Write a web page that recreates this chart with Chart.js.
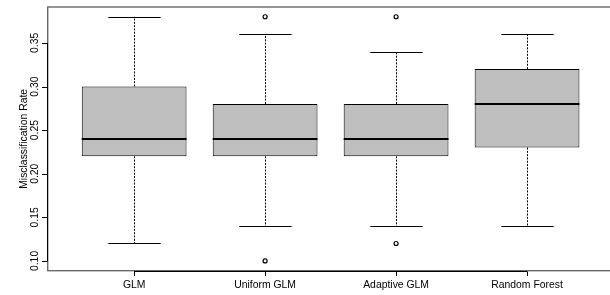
<!DOCTYPE html>
<html>
<head>
<meta charset="utf-8">
<script src="https://cdn.jsdelivr.net/npm/chart.js@4"></script>
<style>
  html, body { margin: 0; padding: 0; background: #fff; overflow: hidden; }
  #wrap { position: relative; width: 620px; height: 295px; }
</style>
</head>
<body>
<div id="wrap"><canvas id="boxChart"></canvas></div>
<script>
// --- Data ---
const categories = ['GLM', 'Uniform GLM', 'Adaptive GLM', 'Random Forest'];
const lowerWhisker = [0.12, 0.14, 0.14, 0.14];
const q1 = [0.22, 0.22, 0.22, 0.23];
const medians = [0.24, 0.24, 0.24, 0.28];
const q3 = [0.30, 0.28, 0.28, 0.32];
const upperWhisker = [0.38, 0.36, 0.34, 0.36];
const outliers = [[], [0.38, 0.10], [0.38, 0.12], []];
const yTicks = [0.10, 0.15, 0.20, 0.25, 0.30, 0.35];
const yTitle = 'Misclassification Rate';

const FONT = '10.4px "Liberation Sans", Arial, sans-serif';

// --- Datasets built from arrays ---
const boxData = categories.map((c, i) => ({ x: i + 1, y: [q1[i], q3[i]] }));
const outlierData = [];
outliers.forEach((list, i) => list.forEach(v => outlierData.push({ x: i + 1, y: v })));

// --- Plugin: whiskers, medians, frame, axes (R boxplot look) ---
const rBoxplot = {
    id: 'rBoxplot',
    beforeDatasetsDraw(chart) {
        const ctx = chart.ctx;
        const xs = chart.scales.x, ys = chart.scales.y;
        ctx.save();
        categories.forEach((c, i) => {
            const cx = Math.round(xs.getPixelForValue(i + 1)) + 0.5;
            const halfCap = xs.getPixelForValue(i + 1.2) - xs.getPixelForValue(i + 1);
            // dashed whiskers
            ctx.strokeStyle = '#000';
            ctx.lineWidth = 1;
            ctx.setLineDash([2, 1.3]);
            ctx.beginPath();
            ctx.moveTo(cx, ys.getPixelForValue(q3[i]));
            ctx.lineTo(cx, ys.getPixelForValue(upperWhisker[i]));
            ctx.moveTo(cx, ys.getPixelForValue(q1[i]));
            ctx.lineTo(cx, ys.getPixelForValue(lowerWhisker[i]));
            ctx.stroke();
            // caps
            ctx.setLineDash([]);
            ctx.beginPath();
            [upperWhisker[i], lowerWhisker[i]].forEach(v => {
                const py = Math.round(ys.getPixelForValue(v)) + 0.5;
                ctx.moveTo(cx - halfCap, py);
                ctx.lineTo(cx + halfCap, py);
            });
            ctx.stroke();
        });
        ctx.restore();
    },
    afterDatasetsDraw(chart) {
        const ctx = chart.ctx;
        const xs = chart.scales.x, ys = chart.scales.y;
        const area = chart.chartArea;
        ctx.save();
        // medians
        ctx.strokeStyle = '#000';
        ctx.lineWidth = 2;
        categories.forEach((c, i) => {
            const py = Math.round(ys.getPixelForValue(medians[i]));
            ctx.beginPath();
            ctx.moveTo(xs.getPixelForValue(i + 0.6), py);
            ctx.lineTo(xs.getPixelForValue(i + 1.4), py);
            ctx.stroke();
        });
        // frame
        ctx.strokeStyle = '#6a6a6a';
        ctx.lineWidth = 1.4;
        ctx.strokeRect(area.left, area.top, area.right - area.left, area.bottom - area.top);
        // y axis line + ticks + labels
        ctx.strokeStyle = '#000';
        ctx.lineWidth = 1;
        const ax = Math.round(area.left) - 0.5;
        const yTop = ys.getPixelForValue(yTicks[yTicks.length - 1]);
        const yBot = ys.getPixelForValue(yTicks[0]);
        ctx.beginPath();
        ctx.moveTo(ax, yTop);
        ctx.lineTo(ax, yBot);
        yTicks.forEach(v => {
            const py = Math.round(ys.getPixelForValue(v)) + 0.5;
            ctx.moveTo(ax, py);
            ctx.lineTo(ax - 5.5, py);
        });
        ctx.stroke();
        ctx.fillStyle = '#000';
        ctx.font = FONT;
        ctx.textAlign = 'center';
        ctx.textBaseline = 'alphabetic';
        yTicks.forEach(v => {
            ctx.save();
            ctx.translate(37.5, ys.getPixelForValue(v));
            ctx.rotate(-Math.PI / 2);
            ctx.fillText(v.toFixed(2), 0, 0);
            ctx.restore();
        });
        // y title
        ctx.save();
        ctx.translate(26.8, (area.top + area.bottom) / 2);
        ctx.rotate(-Math.PI / 2);
        ctx.fillText(yTitle, 0, 0);
        ctx.restore();
        // x axis line + ticks + labels
        const ay = Math.round(area.bottom) + 0.5;
        ctx.beginPath();
        ctx.moveTo(xs.getPixelForValue(1), ay);
        ctx.lineTo(xs.getPixelForValue(categories.length), ay);
        categories.forEach((c, i) => {
            const px = Math.round(xs.getPixelForValue(i + 1)) + 0.5;
            ctx.moveTo(px, ay);
            ctx.lineTo(px, ay + 4.5);
        });
        ctx.stroke();
        categories.forEach((c, i) => {
            ctx.fillText(c, xs.getPixelForValue(i + 1), 287.5);
        });
        ctx.restore();
    }
};

// --- Chart ---
const ctx = document.getElementById('boxChart').getContext('2d');
new Chart(ctx, {
    type: 'bar',
    data: {
        datasets: [
            {
                type: 'bar',
                data: boxData,
                backgroundColor: '#bebebe',
                borderColor: '#000',
                borderWidth: 1,
                borderSkipped: false,
                barPercentage: 0.8,
                categoryPercentage: 1,
                order: 2
            },
            {
                type: 'scatter',
                data: outlierData,
                pointStyle: 'circle',
                pointRadius: 2,
                pointBackgroundColor: '#fff',
                pointBorderColor: '#000',
                pointBorderWidth: 1.2,
                order: 1
            }
        ]
    },
    options: {
        responsive: true,
        maintainAspectRatio: false,
        animation: false,
        layout: { padding: { left: 47.7, top: 7, right: 6.5, bottom: 24.3 } },
        plugins: { legend: { display: false }, tooltip: { enabled: false } },
        scales: {
            x: {
                type: 'linear', min: 0.34, max: 4.66, display: false, offset: false,
                afterBuildTicks: (scale) => {
                    scale.ticks = categories.map((c, i) => ({ value: i + 1 }));
                }
            },
            y: {
                type: 'linear', min: 0.0888, max: 0.3912, display: false,
                afterBuildTicks: (scale) => {
                    scale.ticks = yTicks.map(v => ({ value: v }));
                }
            }
        }
    },
    plugins: [rBoxplot]
});
</script>
</body>
</html>
